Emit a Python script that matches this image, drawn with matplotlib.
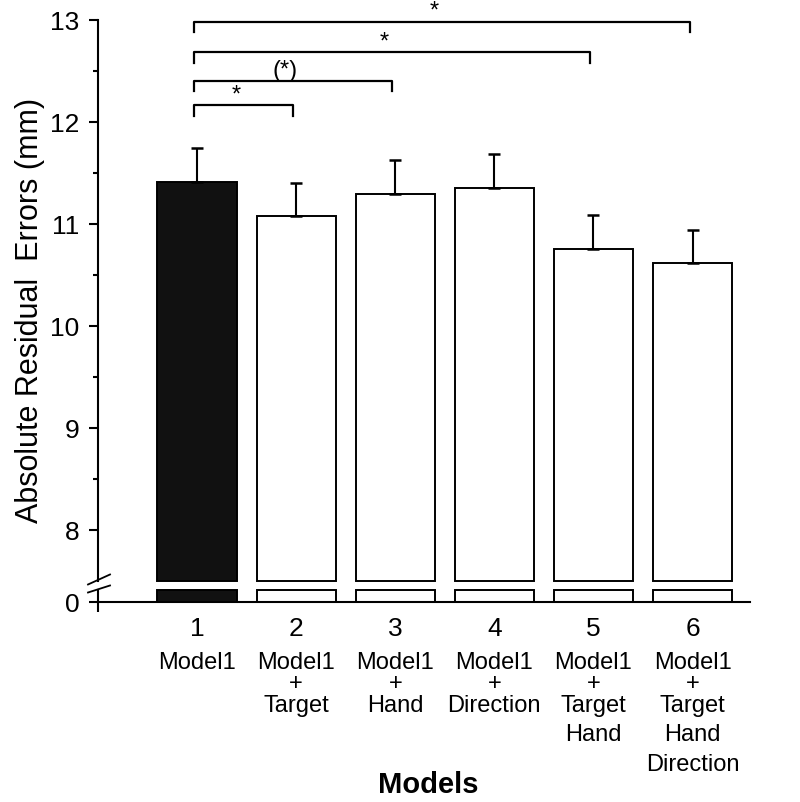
import matplotlib
matplotlib.use("Agg")
import matplotlib.pyplot as plt
import numpy as np

plt.rcParams['font.family'] = ['Liberation Sans', 'DejaVu Sans']

# data
model_num = [1, 2, 3, 4, 5, 6]
model_labels = ["Model1",
                "Model1\n+\nTarget",
                "Model1\n+\nHand",
                "Model1\n+\nDirection",
                "Model1\n+\nTarget\nHand",
                "Model1\n+\nTarget\nHand\nDirection"]
means = [11.41, 11.07, 11.29, 11.35, 10.75, 10.61]
sems = [0.33, 0.33, 0.33, 0.33, 0.33, 0.33]
bar_colors = ["#111111", "white", "white", "white", "white", "white"]

# significance brackets (model pairs) and their marks
sig_pairs = [(1, 2), (1, 3), (1, 5), (1, 6)]
sig_levels = [12.16, 12.40, 12.68, 12.98]
sig_marks = ["*", "(*)", "*", "*"]

W, H = 800, 803
fig = plt.figure(figsize=(W / 100, H / 100), dpi=100)

# upper (broken) axis and the small bottom part with 0
ax = fig.add_axes([98 / W, 1 - 581.5 / H, 652 / W, 560.8 / H])
ax_low = fig.add_axes([98 / W, 1 - 602.7 / H, 652 / W, 12 / H])

x = np.array(model_num)
lw = 1.5
ylo, yhi = 7.5, 13.0

ax.bar(x, np.array(means) - ylo, bottom=ylo, width=0.8, color=bar_colors,
       edgecolor="black", linewidth=1.4, clip_on=False, zorder=2)
ax.errorbar(x, means, yerr=[np.zeros(len(sems)), sems], fmt="none",
            ecolor="black", elinewidth=1.5, capsize=4, capthick=1.8, zorder=3)

low_top = 1.0
ax_low.bar(x, np.minimum(means, low_top), width=0.8, color=bar_colors,
           edgecolor="black", linewidth=1.4, clip_on=False, zorder=2)

for a in (ax, ax_low):
    a.set_xlim(0, 6.58)
    for s in ("top", "right"):
        a.spines[s].set_visible(False)
    a.spines["left"].set_linewidth(lw)
    a.spines["bottom"].set_linewidth(lw)

ax.spines["bottom"].set_visible(False)
ax.set_ylim(ylo, yhi)
ax.set_yticks(np.arange(8, 14))
ax.set_yticks(np.arange(8.5, 13, 1.0), minor=True)
ax.tick_params(axis="y", which="major", direction="out", length=6.5, width=lw,
               labelsize=19, pad=7)
ax.tick_params(axis="y", which="minor", direction="out", length=3.8, width=lw)
ax.set_xticks([])

ax_low.set_ylim(0, low_top)
ax_low.set_yticks([0])
ax_low.tick_params(axis="y", direction="out", length=6.5, width=lw,
                   labelsize=19, pad=7)
ax_low.set_xticks(x)
ax_low.set_xticklabels([str(n) for n in model_num])
ax_low.set_xticks([0], minor=True)
ax_low.tick_params(axis="x", which="major", length=0, labelsize=19, pad=10)
ax_low.tick_params(axis="x", which="minor", direction="out", length=7.5, width=lw)

# break marks on the y axis
for y0, y1 in [(-0.0071, 0.0107), (-0.0214, -0.0089)]:
    ax.plot([-0.0153, 0.0184], [y0, y1], transform=ax.transAxes, color="black",
            lw=1.3, clip_on=False)

# category labels under the numbers
for xi, lab in zip(x, model_labels):
    lines = lab.split("\n")
    off = 60.0
    prev = None
    for ln in lines:
        if prev is not None:
            off += 21.5 if (ln == "+" or prev == "+") else 29.5
        ax_low.annotate(ln, xy=(xi, 0), xycoords=("data", "axes fraction"),
                        xytext=(0, -off * 0.72), textcoords="offset points",
                        ha="center", va="center", fontsize=17)
        prev = ln

# significance brackets
drop = 0.1
for (a, b), lev, mark in zip(sig_pairs, sig_levels, sig_marks):
    xa, xb = a - 0.03, b - 0.03
    ax.plot([xa, xa, xb, xb], [lev - drop, lev, lev, lev - drop], color="black",
            lw=1.6, clip_on=False)
    ax.text((xa + xb) / 2 - 0.08, lev + 0.0, mark, ha="center", va="bottom",
            fontsize=17)

fig.text(30 / W, 1 - 310 / H, "Absolute Residual  Errors (mm)", rotation=90,
         ha="center", va="center", fontsize=22)
fig.text(428 / W, 1 - 785 / H, "Models", ha="center", va="center",
         fontsize=21, fontweight="bold")

fig.savefig("out.png", dpi=100)
